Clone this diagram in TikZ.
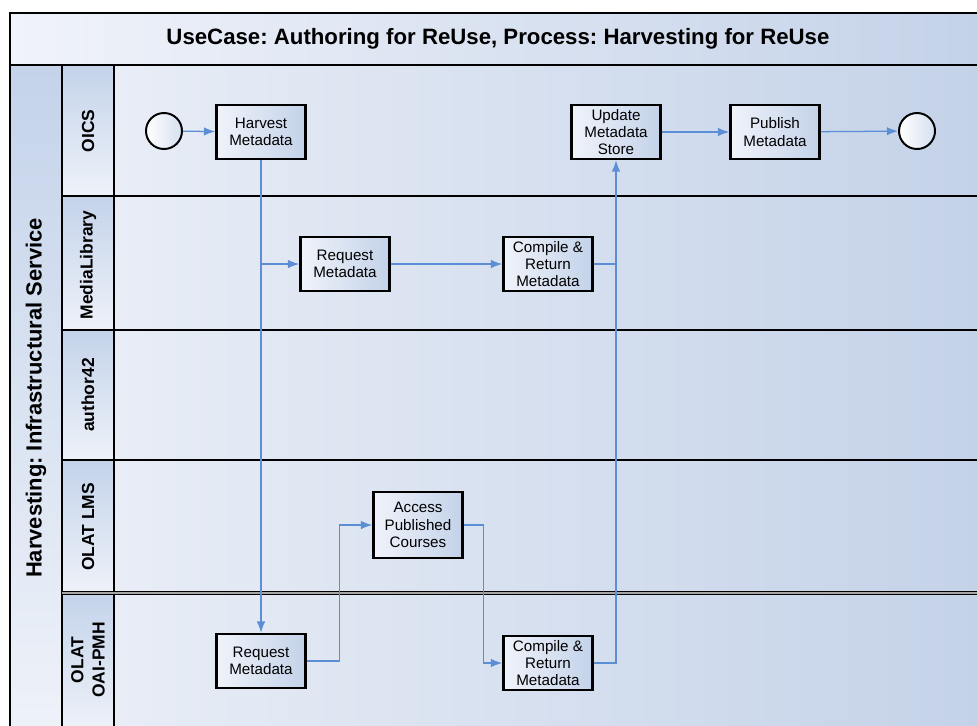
\documentclass[tikz,border=0pt]{standalone}
\usepackage{fontspec}
\setmainfont{Liberation Sans}
\usetikzlibrary{arrows.meta,calc}
\frenchspacing

\definecolor{flowblue}{HTML}{5B8ED4}
\definecolor{poolleft}{HTML}{E8EDF6}
\definecolor{poolright}{HTML}{C4D2E8}
\definecolor{boxlight}{HTML}{F0F3FA}
\definecolor{boxdark}{HTML}{C3D2E9}
\definecolor{lanetop}{HTML}{C4D3EA}
\definecolor{lanebottom}{HTML}{EEF2F9}

\tikzset{
  task/.style={rectangle, draw=black, line width=1.8pt, left color=boxlight, right color=boxdark,
    minimum width=2.225cm, minimum height=1.35cm, inner sep=1pt, align=center,
    font=\fontsize{10.8}{12.3}\selectfont},
  event/.style={circle, draw=black, line width=1.4pt, left color=white, right color=boxdark!70,
    minimum size=0.9cm, inner sep=0pt},
  link/.style={draw=flowblue, line width=0.9pt},
  flow/.style={link, -{Latex[length=8pt,width=6pt]}},
  lanelabel/.style={rotate=90, font=\bfseries\fontsize{12.4}{15}\selectfont, align=center},
  sep/.style={line width=1.6pt},
}

\begin{document}
\begin{tikzpicture}[x=0.025cm, y=-0.025cm]
            \useasboundingbox (0,0) rectangle (977,725);

            % Pool and lanes
            \begin{scope}
            \clip (0,0) rectangle (977,725);
            \shade[left color=boxlight, right color=poolright] (10,13) rectangle (980,65);
            \shade[left color=poolleft, right color=poolright] (114,65) rectangle (980,730);
            \shade[top color=lanetop, bottom color=lanebottom] (10,65) rectangle (62,730);
            \foreach \ya/\yb in {65/196,196/330,330/460,460/593,593/730}
                \shade[top color=lanetop, bottom color=lanebottom] (62,\ya) rectangle (114,\yb);
            \draw[sep] (10,730) -- (10,13) -- (980,13);
            \draw[sep] (10,65) -- (980,65);
            \draw[sep] (62,65) -- (62,730);
            \draw[sep] (114,65) -- (114,730);
            \foreach \y in {196,330,460}
                \draw[sep] (62,\y) -- (980,\y);
            \draw[line width=1.1pt, double=gray!70, double distance=1.3pt] (62,593) -- (980,593);
            \end{scope}

            % Title and lane names
            \node[font=\bfseries\fontsize{15.8}{18}\selectfont] (title) at (498,39) {UseCase: Authoring for ReUse, Process: Harvesting for ReUse};
            \node[lanelabel, font=\bfseries\fontsize{15.6}{18}\selectfont] (pool) at (36,398) {Harvesting: Infrastructural Service};
            \node[lanelabel] (oics) at (88,131) {OICS};
            \node[lanelabel] (medialib) at (88,265) {MediaLibrary};
            \node[lanelabel] (author) at (88,395) {author42};
            \node[lanelabel] (olatlms) at (88,527) {OLAT LMS};
            \node[lanelabel] (olatoai) at (88,660) {OLAT\\OAI-PMH};

            % Events
            \node[event] (start) at (164,131) {};
            \node[event] (finish) at (917,131) {};

            % Tasks
            \node[task] (harvest) at (261,132) {Harvest\\Metadata};
            \node[task] (mlreq) at (345,264) {Request\\Metadata};
            \node[task] (mlcomp) at (548,264) {Compile \&\\Return\\Metadata};
            \node[task] (update) at (616,132) {Update\\Metadata\\Store};
            \node[task] (publish) at (775,132) {Publish\\Metadata};
            \node[task, minimum height=1.65cm] (access) at (418,525) {Access\\Published\\Courses};
            \node[task] (oaireq) at (261,661) {Request\\Metadata};
            \node[task] (oaicomp) at (548,663) {Compile \&\\Return\\Metadata};

            % Flows
            \coordinate (fork) at (harvest.south |- mlreq.west);
            \draw[flow] (start) -- (harvest);
            \draw[flow] (harvest) -- (oaireq);
            \draw[flow] (fork) -- (mlreq);
            \draw[flow] (mlreq) -- (mlcomp);
            \draw[link] (mlcomp.east) -- (mlcomp.east -| update.south);
            \draw[flow] (oaireq.east) -- ++(33,0) |- (access.west);
            \draw[flow] (access.east) -- ++(20,0) |- (oaicomp.west);
            \draw[flow] (oaicomp.east) -| (update.south);
            \draw[flow] (update) -- (publish);
            \draw[flow] (publish) -- (finish);

        \end{tikzpicture}
\end{document}
